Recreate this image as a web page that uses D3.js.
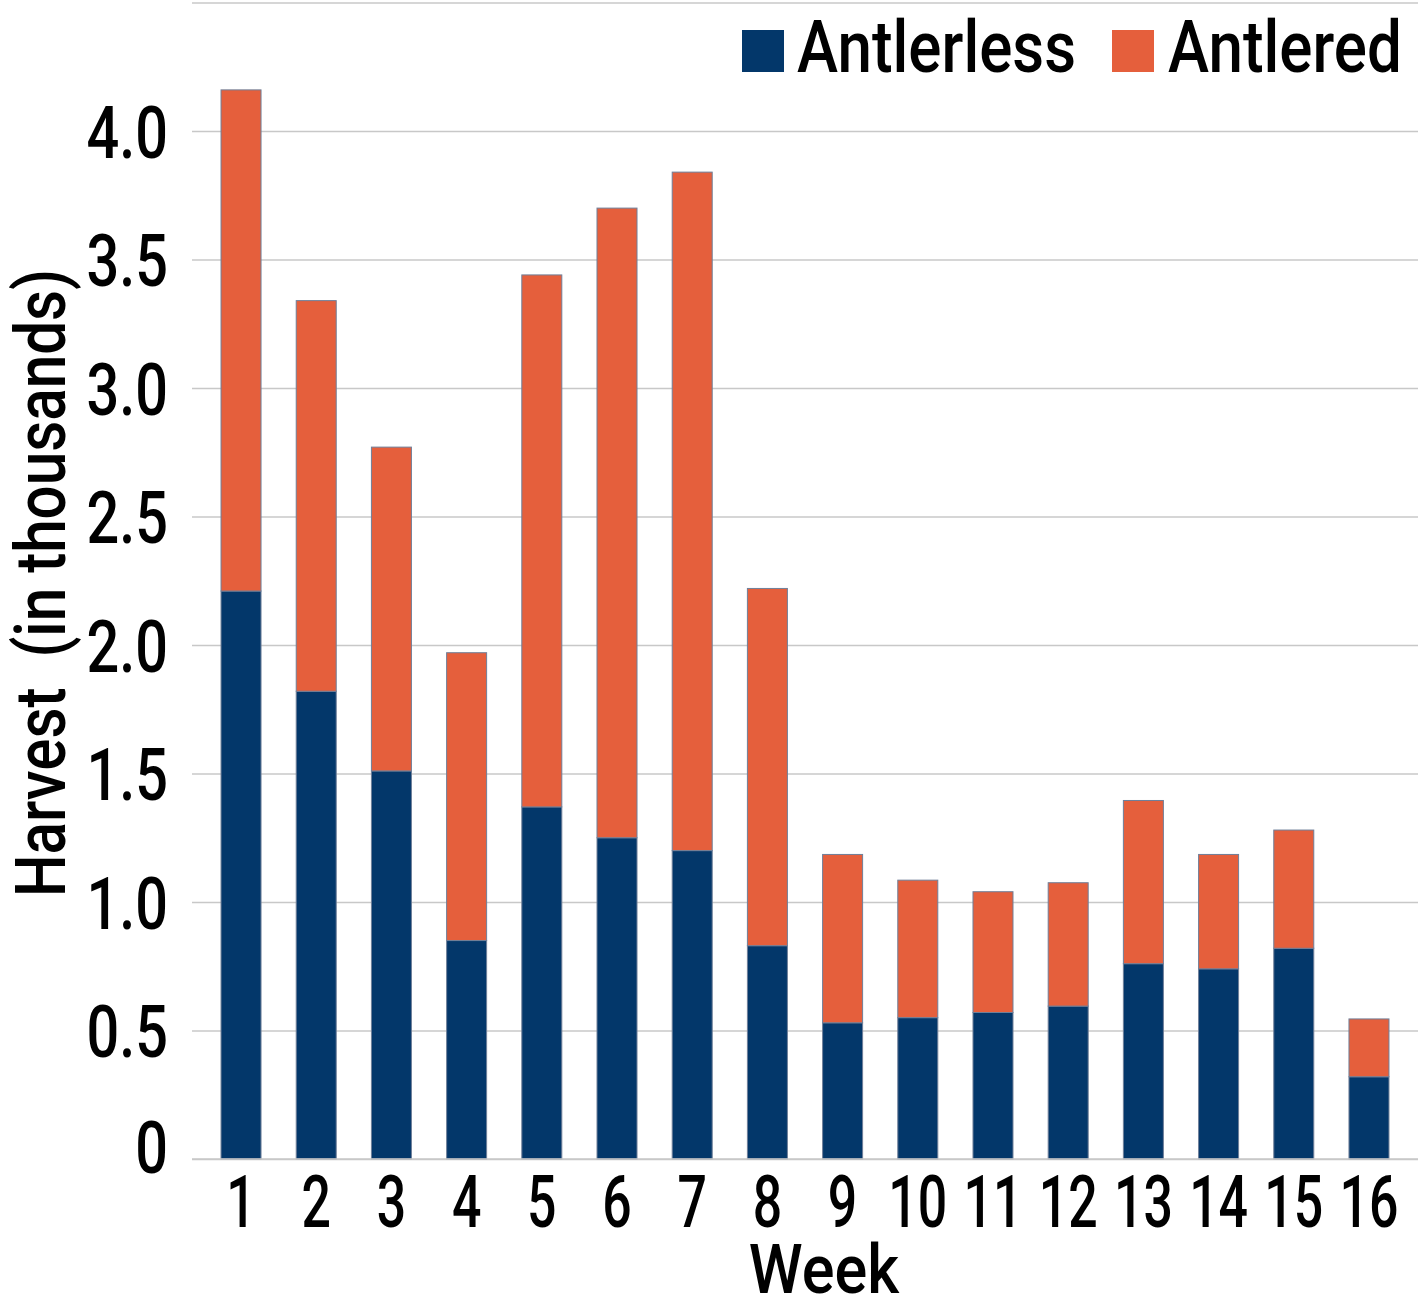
<!DOCTYPE html>
<html><head><meta charset="utf-8">
<script src="https://cdn.jsdelivr.net/npm/d3@7"></script>
<style>
html,body{margin:0;padding:0;background:#fff;}
svg{display:block;}
text{font-family:Roboto,"Liberation Sans",sans-serif;font-weight:500;fill:#000;}
</style></head>
<body>
<svg id="chart" width="1418" height="1313"></svg>
<script>
const weeks = ["1","2","3","4","5","6","7","8","9","10","11","12","13","14","15","16"];
const antlerless = [2.21,1.82,1.51,0.85,1.37,1.25,1.20,0.83,0.53,0.55,0.57,0.595,0.76,0.74,0.82,0.32];
const antlered   = [1.95,1.52,1.26,1.12,2.07,2.45,2.64,1.39,0.655,0.535,0.47,0.48,0.635,0.445,0.46,0.225];
const seriesNames = ["Antlerless","Antlered"];
const seriesColors = ["#03376A","#E55F3C"];
const yTicks = [0,0.5,1.0,1.5,2.0,2.5,3.0,3.5,4.0,4.5];

(function(){
const svg = d3.select("#chart");
const pL = 192, pR = 1418, pT = 2.5, pB = 1159;

const x = d3.scaleBand().domain(weeks).range([pL,pR]).paddingInner(0.468).paddingOuter(0.386);
const y = d3.scaleLinear().domain([0,4.5]).range([pB,pT]);

// gridlines
const grid = svg.append("g").attr("transform",`translate(${pL},0)`)
  .call(d3.axisLeft(y).tickValues(yTicks).tickSize(-(pR-pL)).tickFormat(""));
grid.select(".domain").remove();
grid.selectAll("line").attr("stroke","#c8c8c8").attr("stroke-width",1.3);

// bars
const rows = weeks.map((w,i)=>({week:w, Antlerless:antlerless[i], Antlered:antlered[i]}));
const stack = d3.stack().keys(seriesNames)(rows);
svg.append("g").selectAll("g").data(stack).join("g")
  .attr("fill",(d,i)=>seriesColors[i])
  .selectAll("rect").data(d=>d).join("rect")
  .attr("x",d=>x(d.data.week))
  .attr("width",x.bandwidth())
  .attr("y",d=>y(d[1]))
  .attr("height",d=>y(d[0])-y(d[1]))
  .attr("stroke","#6f7f99").attr("stroke-width",1);

// baseline over bars
svg.append("line").attr("x1",pL).attr("x2",pR).attr("y1",pB).attr("y2",pB)
  .attr("stroke","#c8c8c8").attr("stroke-width",1.5);

// y tick labels
const SY = 0.8;
const yAx = svg.append("g").attr("transform",`translate(${pL},0)`)
  .call(d3.axisLeft(y).tickValues(yTicks.filter(v=>v<=4.0)).tickSize(0).tickPadding(0)
    .tickFormat(d=>d===0?"0":d.toFixed(1)));
yAx.select(".domain").remove();
yAx.selectAll("text")
  .attr("font-size",72).attr("font-family","Roboto").attr("font-weight",500).attr("fill","#000")
  .attr("text-anchor","end")
  .attr("x",-24/SY).attr("dy",null)
  .attr("y",d=>d===0?13:26)
  .attr("transform",`scale(${SY},1)`);

// x tick labels
const SXL = 0.72;
const xAx = svg.append("g").attr("transform",`translate(0,${pB})`)
  .call(d3.axisBottom(x).tickSize(0).tickPadding(0));
xAx.select(".domain").remove();
xAx.selectAll(".tick").each(function(d){
  const t = d3.select(this);
  const cx = x(d)+x.bandwidth()/2;
  t.attr("transform",`translate(${cx},0)`);
  t.select("text").attr("font-size",72).attr("font-family","Roboto").attr("font-weight",500)
   .attr("fill","#000").attr("text-anchor","middle").attr("dy",null).attr("y",68)
   .attr("transform",`scale(${SXL},1)`);
});

// axis titles
svg.append("text").attr("transform",`translate(824,1293) scale(0.9,1)`)
  .attr("text-anchor","middle").attr("font-size",68).text("Week");
svg.append("text").attr("transform",`translate(65,583) rotate(-90) scale(0.86,1)`)
  .attr("text-anchor","middle").attr("font-size",70).attr("xml:space","preserve").text("Harvest  (in thousands)");

// legend
const legX = [742,1112], legTX=[797,1168];
seriesNames.forEach((s,i)=>{
  svg.append("rect").attr("x",legX[i]).attr("y",30).attr("width",42).attr("height",42).attr("fill",seriesColors[i]);
  svg.append("text").attr("transform",`translate(${legTX[i]},72) scale(0.86,1)`)
    .attr("font-size",72).text(s);
});
})();
</script>
</body></html>
